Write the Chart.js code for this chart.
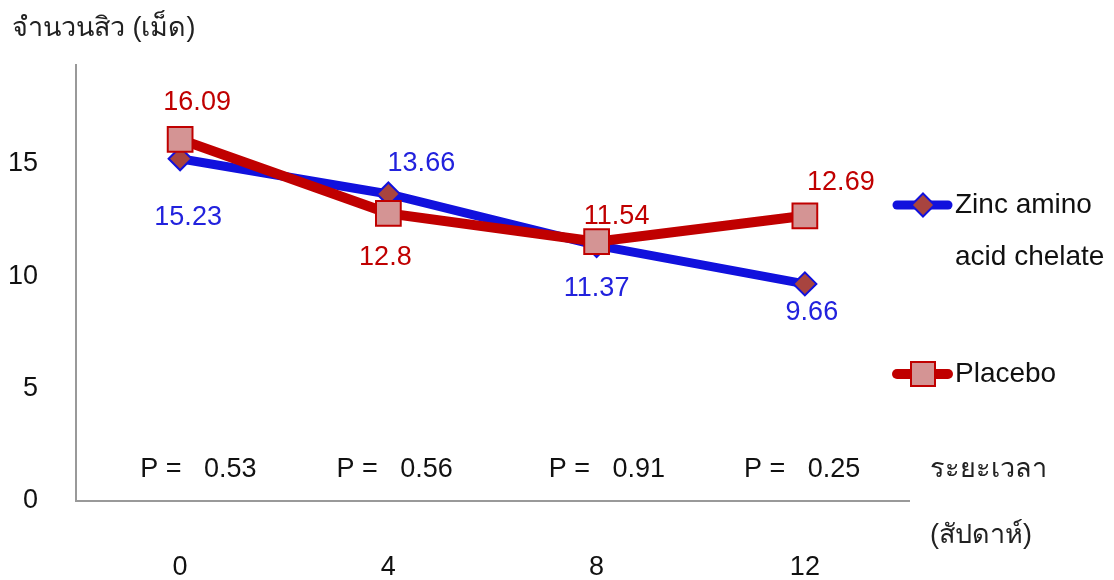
<!DOCTYPE html>
<html>
<head>
<meta charset="utf-8">
<script src="https://cdn.jsdelivr.net/npm/chart.js@4.4.0/dist/chart.umd.min.js"></script>
<style>
  html, body { margin: 0; padding: 0; background: #fff; }
  #wrap { width: 1114px; height: 580px; }
</style>
</head>
<body>
<div id="wrap"><canvas id="acneChart" width="1114" height="580"></canvas></div>
<script>
const weeks = ['0', '4', '8', '12'];
const zincValues = [15.23, 13.66, 11.37, 9.66];
const placeboValues = [16.09, 12.8, 11.54, 12.69];
const pValues = ['0.53', '0.56', '0.91', '0.25'];
const yTicks = [0, 5, 10, 15];

const FONT = "'Liberation Sans', Arial, sans-serif";
const BLUE = '#1111dd';
const RED = '#c00000';

// where each value label sits relative to its point
const zincLabelOffsets = [[8, 59], [33, -30], [0, 43], [7, 29]];
const placeboLabelOffsets = [[17, -37], [-3, 44], [20, -25], [36, -33]];
// left edge of each p-value text, relative to its week
const pTextShift = [-40, -52, -48, -61];

const drawDiamond = (ctx, x, y, r) => {
  ctx.beginPath();
  ctx.moveTo(x, y - r);
  ctx.lineTo(x + r, y);
  ctx.lineTo(x, y + r);
  ctx.lineTo(x - r, y);
  ctx.closePath();
  ctx.fillStyle = '#a8443f';
  ctx.fill();
  ctx.lineWidth = 2;
  ctx.strokeStyle = BLUE;
  ctx.stroke();
};

const drawSquare = (ctx, x, y, half) => {
  ctx.fillStyle = '#d49494';
  ctx.fillRect(x - half, y - half, half * 2, half * 2);
  ctx.lineWidth = 2;
  ctx.strokeStyle = RED;
  ctx.strokeRect(x - half, y - half, half * 2, half * 2);
};

const extrasPlugin = {
  id: 'extras',
  afterDatasetsDraw(chart) {
    const { ctx } = chart;
    const xScale = chart.scales.x;
    ctx.save();
    ctx.font = `27px ${FONT}`;
    ctx.textAlign = 'center';
    ctx.textBaseline = 'middle';

    // value labels
    const offsets = [zincLabelOffsets, placeboLabelOffsets];
    const colors = ['#2222dd', RED];
    chart.data.datasets.forEach((ds, di) => {
      const meta = chart.getDatasetMeta(di);
      ctx.fillStyle = colors[di];
      meta.data.forEach((pt, i) => {
        const [dx, dy] = offsets[di][i];
        ctx.fillText(String(ds.data[i]), pt.x + dx, pt.y + dy);
      });
    });

    // p-values under each week
    ctx.fillStyle = '#111';
    ctx.textAlign = 'left';
    pValues.forEach((p, i) => {
      ctx.fillText(`P =   ${p}`, xScale.getPixelForValue(i) + pTextShift[i], 470);
    });

    // axis titles
    ctx.fillStyle = '#222';
    ctx.font = `27px ${FONT}`;
    ctx.fillText('จำนวนสิว (เม็ด)', 12, 29);
    ctx.fillText('ระยะเวลา', 930, 470);
    ctx.fillText('(สัปดาห์)', 930, 536);

    // legend
    const legendRows = [
      { y: 205, lines: ['Zinc amino', 'acid chelate'], color: BLUE, width: 9, marker: 'diamond' },
      { y: 374, lines: ['Placebo'], color: RED, width: 10, marker: 'square' },
    ];
    ctx.font = `28px ${FONT}`;
    legendRows.forEach((row) => {
      ctx.beginPath();
      ctx.moveTo(897, row.y);
      ctx.lineTo(948, row.y);
      ctx.lineCap = 'round';
      ctx.lineWidth = row.width;
      ctx.strokeStyle = row.color;
      ctx.stroke();
      if (row.marker === 'diamond') {
        drawDiamond(ctx, 923, row.y, 11.5);
      } else {
        drawSquare(ctx, 923, row.y, 12);
      }
      ctx.fillStyle = '#111';
      row.lines.forEach((line, li) => {
        ctx.fillText(line, 955, row.y + li * 52);
      });
    });
    ctx.restore();
  },
};

const ctx = document.getElementById('acneChart');

new Chart(ctx, {
  type: 'line',
  data: {
    labels: weeks,
    datasets: [
      {
        label: 'Zinc amino acid chelate',
        data: zincValues,
        borderColor: BLUE,
        borderWidth: 9,
        pointStyle: 'rectRot',
        pointRadius: 11.5,
        pointBorderWidth: 2,
        pointBackgroundColor: '#a8443f',
        pointBorderColor: BLUE,
        tension: 0,
        order: 2,
      },
      {
        label: 'Placebo',
        data: placeboValues,
        borderColor: RED,
        borderWidth: 10,
        pointStyle: 'rect',
        pointRadius: 17.5,
        pointBorderWidth: 2,
        pointBackgroundColor: '#d49494',
        pointBorderColor: RED,
        tension: 0,
        order: 1,
      },
    ],
  },
  options: {
    responsive: false,
    animation: false,
    devicePixelRatio: 1,
    layout: {
      padding: { top: 65, right: 205, bottom: 0, left: 0 },
    },
    plugins: {
      legend: { display: false },
      tooltip: { enabled: false },
      title: { display: false },
    },
    scales: {
      x: {
        offset: true,
        grid: { display: false, drawTicks: false },
        border: { color: '#999', width: 2 },
        ticks: {
          color: '#111',
          font: { family: FONT, size: 27 },
          padding: 50,
          maxRotation: 0,
        },
        afterFit: (scale) => { scale.height = 79; },
      },
      y: {
        min: 0,
        max: 19.4,
        grid: { display: false, drawTicks: false },
        border: { color: '#999', width: 2 },
        ticks: {
          color: '#111',
          font: { family: FONT, size: 27 },
          padding: 38,
        },
        afterBuildTicks: (scale) => { scale.ticks = yTicks.map((v) => ({ value: v })); },
        afterFit: (scale) => { scale.width = 76; },
      },
    },
  },
  plugins: [extrasPlugin],
});
</script>
</body>
</html>
